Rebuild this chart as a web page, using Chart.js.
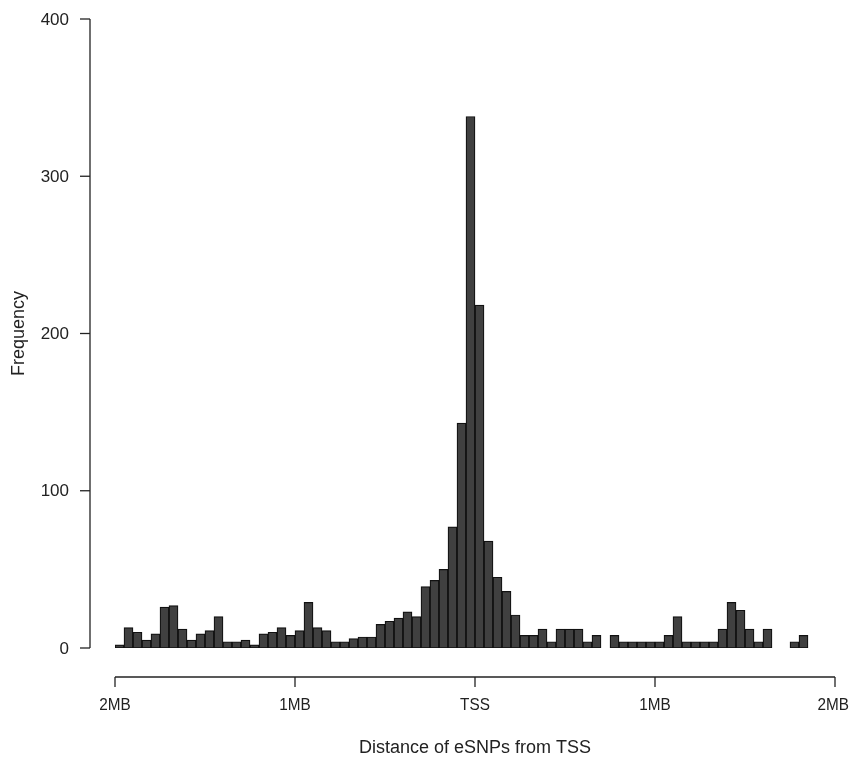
<!DOCTYPE html>
<html>
<head>
<meta charset="utf-8">
<script src="https://cdn.jsdelivr.net/npm/chart.js@4.4.1/dist/chart.umd.min.js"></script>
<style>
  html, body { margin: 0; padding: 0; background: #fff; }
  #wrap { width: 850px; height: 758px; }
</style>
</head>
<body>
<div id="wrap"><canvas id="hist" width="850" height="758"></canvas></div>
<script>
// --- datos del histograma (bins de 50 kb) ---
const binWidth = 50; // kb
// de -2MB hasta TSS (40 bins)
const countsUpstream = [
  2, 13, 10, 5, 9, 26, 27, 12, 5, 9,
  11, 20, 4, 4, 5, 2, 9, 10, 13, 8,
  11, 29, 13, 11, 4, 4, 6, 7, 7, 15,
  17, 19, 23, 20, 39, 43, 50, 77, 143, 338
];
// desde TSS hacia +2MB (37 bins)
const countsDownstream = [
  218, 68, 45, 36, 21, 8, 8, 12, 4, 12,
  12, 12, 4, 8, 0, 8, 4, 4, 4, 4,
  4, 8, 20, 4, 4, 4, 4, 12, 29, 24,
  12, 4, 12, 0, 0, 4, 8
];
const xTickValues = [-2000, -1000, 0, 1000, 2000];
const xTickLabels = ['2MB', '1MB', 'TSS', '1MB', '2MB'];
const yTickValues = [0, 100, 200, 300, 400];
const xTitle = 'Distance of eSNPs from TSS';
const yTitle = 'Frequency';

// puntos {x: centro del bin, y: frecuencia}
const puntos = [];
countsUpstream.forEach((c, i) => {
  puntos.push({ x: -2000 + binWidth * i + binWidth / 2, y: c });
});
countsDownstream.forEach((c, i) => {
  puntos.push({ x: binWidth * i + binWidth / 2, y: c });
});

const FONT = '"Liberation Sans", Arial, sans-serif';
const INK = '#222';

// texto algo condensado, como en la imagen original
function textoAngosto(ctx, txt, x, y, k) {
  ctx.save();
  ctx.translate(x, y);
  ctx.scale(k, 1);
  ctx.fillText(txt, 0, 0);
  ctx.restore();
}

// ejes estilo R (separados del área de datos)
const ejesR = {
  id: 'ejesR',
  afterDraw(chart) {
    const { ctx, chartArea, scales, width } = chart;
    const sx = scales.x, sy = scales.y;
    ctx.save();
    ctx.strokeStyle = INK;
    ctx.fillStyle = INK;
    ctx.lineWidth = 1.3;
    ctx.font = '17px ' + FONT;

    // eje Y
    const ax = chartArea.left - 25;
    ctx.beginPath();
    ctx.moveTo(ax, sy.getPixelForValue(yTickValues[0]));
    ctx.lineTo(ax, sy.getPixelForValue(yTickValues[yTickValues.length - 1]));
    ctx.stroke();
    ctx.textAlign = 'right';
    ctx.textBaseline = 'middle';
    yTickValues.forEach(v => {
      const py = sy.getPixelForValue(v);
      ctx.beginPath();
      ctx.moveTo(ax, py);
      ctx.lineTo(ax - 10, py);
      ctx.stroke();
      ctx.fillText(String(v), ax - 21, py + 1);
    });

    // eje X
    const ay = chartArea.bottom + 29;
    ctx.beginPath();
    ctx.moveTo(sx.getPixelForValue(xTickValues[0]), ay);
    ctx.lineTo(sx.getPixelForValue(xTickValues[xTickValues.length - 1]), ay);
    ctx.stroke();
    ctx.textAlign = 'center';
    ctx.textBaseline = 'middle';
    const k = 0.9;
    xTickValues.forEach((v, i) => {
      const px = sx.getPixelForValue(v);
      ctx.beginPath();
      ctx.moveTo(px, ay);
      ctx.lineTo(px, ay + 10);
      ctx.stroke();
      const half = ctx.measureText(xTickLabels[i]).width * k / 2;
      const cx = Math.min(px, width - 1 - half);
      textoAngosto(ctx, xTickLabels[i], cx, ay + 28, k);
    });

    // titulos
    ctx.font = '18px ' + FONT;
    ctx.fillText(xTitle, (chartArea.left + chartArea.right) / 2, ay + 71);
    ctx.translate(19, (sy.getPixelForValue(0) + sy.getPixelForValue(400)) / 2);
    ctx.rotate(-Math.PI / 2);
    ctx.fillText(yTitle, 0, 0);
    ctx.restore();
  }
};

new Chart(document.getElementById('hist').getContext('2d'), {
  type: 'bar',
  data: {
    datasets: [{
      label: yTitle,
      data: puntos,
      backgroundColor: '#404040',
      borderColor: '#111111',
      borderWidth: 1.2,
      borderSkipped: false,
      barPercentage: 1,
      categoryPercentage: 1
    }]
  },
  options: {
    responsive: false,
    animation: false,
    layout: { padding: { left: 115, right: 15, top: 19, bottom: 110 } },
    plugins: { legend: { display: false }, tooltip: { enabled: false } },
    scales: {
      x: { type: 'linear', min: -2000, max: 2000, offset: false, display: false },
      y: { min: 0, max: 400, display: false }
    }
  },
  plugins: [ejesR]
});
</script>
</body>
</html>
